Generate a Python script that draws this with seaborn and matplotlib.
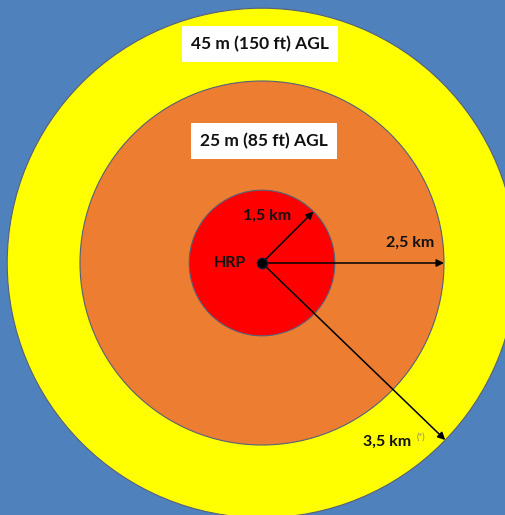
import numpy as np
import matplotlib.pyplot as plt
import seaborn as sns
from matplotlib.patches import Circle

# rings as drawn (radius in km units of the sketch), outer to inner
ring_names = ["45 m (150 ft) AGL", "25 m (85 ft) AGL", "HRP"]
ring_radius = [3.5, 2.5, 1.0]
ring_colors = ["#FFFF00", "#ED7D31", "#FF0000"]

# radius arrows: label, angle (deg), length
arrow_labels = ["1,5 km", "2,5 km", "3,5 km"]
arrow_angle = [45, 0, -44]
arrow_length = [1.0, 2.5, 3.5]

sns.set_theme(style="white")
plt.rcParams['font.family'] = ['Lato', 'DejaVu Sans']

fig = plt.figure(figsize=(5.05, 5.15), dpi=100)
fig.patch.set_facecolor("#4F81BD")
ax = fig.add_axes([0, 0, 1, 1])
ax.set_facecolor("#4F81BD")

scale = 72.8  # px per unit
cx, cy = 0.0, 0.0
ax.set_xlim(-262 / scale, (505 - 262) / scale)
ax.set_ylim(-(515 - 263) / scale, 263 / scale)
ax.set_aspect("equal")
ax.axis("off")

for r, c in zip(ring_radius, ring_colors):
    ax.add_patch(Circle((cx, cy), r, facecolor=c, edgecolor="#55607a", lw=0.8))

# centre point
sns.scatterplot(x=[cx], y=[cy], s=55, color="black", edgecolor="#1a1a40",
                linewidth=1, ax=ax, zorder=5)

for lab, ang, ln in zip(arrow_labels, arrow_angle, arrow_length):
    a = np.deg2rad(ang)
    ax.annotate("", xy=(cx + ln * np.cos(a), cy + ln * np.sin(a)), xytext=(cx, cy),
                arrowprops=dict(arrowstyle="-|>", color="black", lw=1.1,
                                mutation_scale=11, shrinkA=0, shrinkB=0),
                zorder=4)

lab_kw = dict(ha="center", va="center", fontsize=11.5, fontweight="bold",
              color="#111111")
ax.text(5 / scale, 47 / scale, arrow_labels[0], **lab_kw)
ax.text(148 / scale, 20 / scale, arrow_labels[1], **lab_kw)
ax.text(-32 / scale, 0, ring_names[2], **lab_kw)
ax.text(125 / scale, -179 / scale, arrow_labels[2], **lab_kw)
ax.text(159 / scale, -174 / scale, "(*)", ha="center", va="center",
        fontsize=6.5, color="#8a8a70")

box = dict(boxstyle="square,pad=0.55", facecolor="white", edgecolor="none")
ax.text(-2 / scale, 219 / scale, ring_names[0], ha="center", va="center",
        fontsize=12.5, fontweight="bold", color="#111111", bbox=box)
ax.text(2 / scale, 122 / scale, ring_names[1], ha="center", va="center",
        fontsize=12.5, fontweight="bold", color="#111111", bbox=box)

fig.savefig("out.png", dpi=100, facecolor=fig.get_facecolor())
